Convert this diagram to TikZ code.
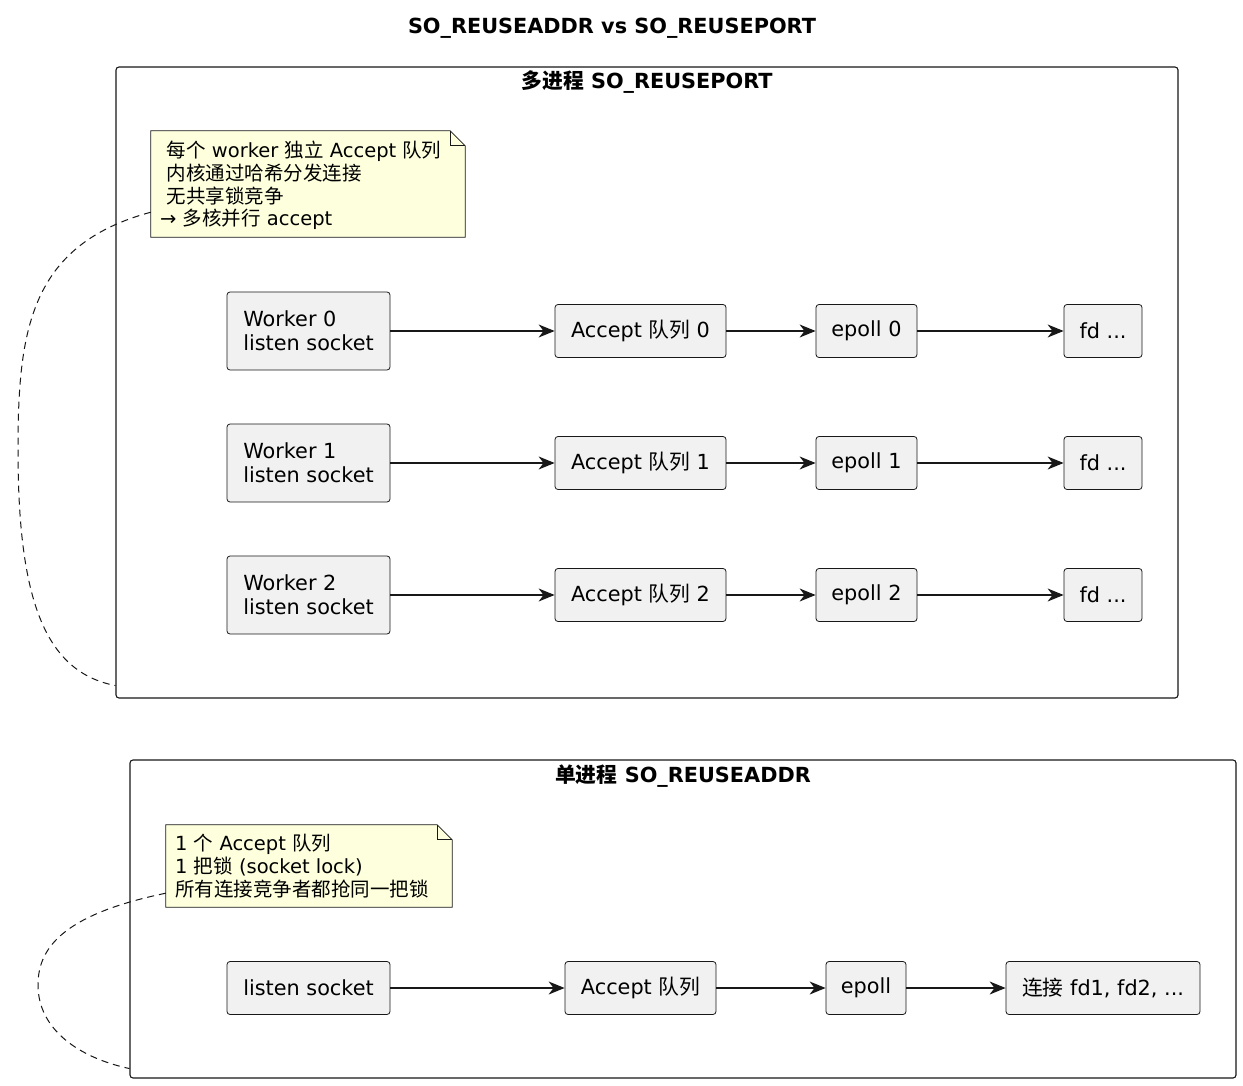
\documentclass[tikz,border=0pt]{standalone}
\usepackage{fontspec}
\setmainfont{DejaVu Sans}
\newfontfamily\cjk{Noto Sans CJK SC}
\newcommand\zh[1]{{\cjk #1}}
\usetikzlibrary{arrows.meta,calc}
\definecolor{boxfill}{HTML}{F1F1F1}
\definecolor{linec}{HTML}{181818}
\definecolor{notefill}{HTML}{FEFFDD}
\tikzset{
  box/.style={draw=linec, fill=boxfill, rounded corners=3pt, line width=0.8pt,
    minimum height=53pt, inner sep=0pt, align=left,
    font=\fontsize{20.8}{24.3}\selectfont},
  frame/.style={draw=linec, rounded corners=3pt, line width=1.1pt, inner sep=0pt},
  ftitle/.style={font=\fontsize{20.8}{24}\selectfont\bfseries, inner sep=0pt},
  notebox/.style={inner sep=0pt},
  notetext/.style={inner sep=0pt, align=left, font=\fontsize{19.5}{22.7}\selectfont},
  arr/.style={draw=linec, line width=1.3pt, -{Stealth[length=16pt,width=13pt,inset=5pt]}},
  dsh/.style={draw=linec, line width=1pt, dash pattern=on 7pt off 5pt}
}
\newcommand\notepath[1]{%
  \draw[draw=linec, fill=notefill, line width=0.8pt]
    (#1.north west) -- ($(#1.north east)+(-15,0)$) -- ($(#1.north east)+(0,15)$)
    -- (#1.south east) -- (#1.south west) -- cycle;
  \draw[draw=linec, line width=0.8pt]
    ($(#1.north east)+(-15,0)$) -- ($(#1.north east)+(-15,15)$) -- ($(#1.north east)+(0,15)$);
}
\begin{document}
\begin{tikzpicture}[x=1pt,y=-1pt]
\useasboundingbox[fill=white] (0,0) rectangle (1243,1086);

\node[ftitle] (title) at (612,28) {SO\_REUSEADDR vs SO\_REUSEPORT};

% ---------- group 1 ----------
\node[frame, minimum width=1062pt, minimum height=631pt] (g1) at (647,382.5) {};
\node[ftitle] (g1t) at (647,82) {\zh{多进程} SO\_REUSEPORT};

\node[notebox, minimum width=314pt, minimum height=106pt] (n1) at (308,184) {};
\notepath{n1}
\node[notetext, anchor=north west] (n1t) at (160,141)
  {\hspace*{6.5pt}\zh{每个} worker \zh{独立} Accept \zh{队列}\\
   \hspace*{6.5pt}\zh{内核通过哈希分发连接}\\
   \hspace*{6.5pt}\zh{无共享锁竞争}\\
   → \zh{多核并行} accept};

\node[box, minimum width=163pt, minimum height=78pt] (w0) at (308.5,331) {Worker 0\\listen socket};
\node[box, minimum width=171pt] (a0) at (640.5,331) {Accept \zh{队列} 0};
\node[box, minimum width=101pt] (e0) at (866.5,331) {epoll 0};
\node[box, minimum width=78pt] (f0) at (1103,331) {fd ...};

\node[box, minimum width=163pt, minimum height=78pt] (w1) at (308.5,463) {Worker 1\\listen socket};
\node[box, minimum width=171pt] (a1) at (640.5,463) {Accept \zh{队列} 1};
\node[box, minimum width=101pt] (e1) at (866.5,463) {epoll 1};
\node[box, minimum width=78pt] (f1) at (1103,463) {fd ...};

\node[box, minimum width=163pt, minimum height=78pt] (w2) at (308.5,595) {Worker 2\\listen socket};
\node[box, minimum width=171pt] (a2) at (640.5,595) {Accept \zh{队列} 2};
\node[box, minimum width=101pt] (e2) at (866.5,595) {epoll 2};
\node[box, minimum width=78pt] (f2) at (1103,595) {fd ...};

\foreach \i in {0,1,2}{
  \draw[arr] (w\i) -- (a\i);
  \draw[arr] (a\i) -- (e\i);
  \draw[arr] (e\i) -- (f\i);
}

\coordinate (d1s) at ($(n1.south west)+(0,-25)$);
\coordinate (d1e) at ($(g1.south west)+(0,-13)$);
\draw[dsh] (d1s) .. controls (30,245) and (18,330) .. (18,450)
  .. controls (18,600) and (45,672) .. (d1e);

% ---------- group 2 ----------
\node[frame, minimum width=1106pt, minimum height=318pt] (g2) at (683,919) {};
\node[ftitle] (g2t) at (683,776) {\zh{单进程} SO\_REUSEADDR};

\node[notebox, minimum width=286pt, minimum height=82pt] (n2) at (309,866) {};
\notepath{n2}
\node[notetext, anchor=north west] (n2t) at (175,834)
  {1 \zh{个} Accept \zh{队列}\\
   1 \zh{把锁} (socket lock)\\
   \zh{所有连接竞争者都抢同一把锁}};

\node[box, minimum width=163pt] (ls) at (308.5,988) {listen socket};
\node[box, minimum width=151pt] (aq) at (640.5,988) {Accept \zh{队列}};
\node[box, minimum width=80pt] (ep) at (866,988) {epoll};
\node[box, minimum width=194pt] (cn) at (1103,988) {\zh{连接} fd1, fd2, ...};

\draw[arr] (ls) -- (aq);
\draw[arr] (aq) -- (ep);
\draw[arr] (ep) -- (cn);

\coordinate (d2s) at ($(n2.south west)+(0,-14)$);
\coordinate (d2e) at ($(g2.south west)+(0,-10)$);
\draw[dsh] (d2s) .. controls (60,915) and (38,950) .. (38,985)
  .. controls (38,1030) and (80,1058) .. (d2e);
\end{tikzpicture}
\end{document}
